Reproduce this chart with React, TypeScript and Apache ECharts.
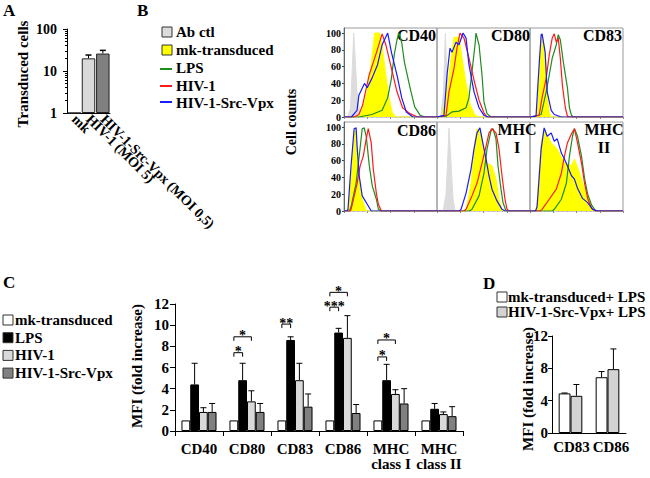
import React, { useEffect, useRef } from 'react';
import * as echarts from 'echarts';

const FONT = '"Liberation Serif", "Times New Roman", serif';

// ---------- Panel A data ----------
const aCategories = ['mk', 'HIV-1 (MOI 5)', 'HIV-1-Src-Vpx (MOI 0,5)'];
const aValues = [1, 20, 26];
const aErrTop = [1, 24, 31];
const aColors = ['#ffffff', '#d9d9d9', '#808080'];

// ---------- Panel B data (x: relative log fluorescence 0-100, y: cell counts) ----------
const cd40Ab = [[0, 0], [4, 0], [7, 10], [9, 60], [10.5, 100], [12, 70], [14, 30], [17, 5], [19, 0], [100, 0]];
const cd40Mk = [[0, 0], [16, 0], [20, 10], [25, 30], [28, 50], [31, 80], [33, 100], [38, 100], [41, 85], [45, 50], [48, 25], [52, 5], [56, 0], [100, 0]];
const cd40Lps = [[0, 0], [16, 0], [30, 3], [41, 8], [47, 23], [51, 46], [54, 74], [57, 92], [59, 100], [62, 89], [65, 65], [71, 35], [76, 12], [82, 2], [87, 0], [100, 0]];
const cd40Hiv = [[0, 0], [11, 0], [16, 3], [20, 14], [27, 50], [35, 77], [41, 99], [45, 86], [51, 58], [57, 30], [63, 11], [71, 4], [79, 0], [100, 0]];
const cd40Vpx = [[0, 0], [8, 0], [14, 8], [16, 26], [22, 40], [25, 35], [30, 46], [36, 62], [41, 86], [47, 100], [51, 77], [57, 50], [62, 23], [67, 6], [74, 0], [100, 0]];

const cd80Ab = [[0, 0], [4, 0], [7, 30], [9, 100], [11, 40], [13, 5], [15, 0], [100, 0]];
const cd80Mk = [[0, 0], [5.4, 0], [10.8, 30], [15, 70], [18.3, 95], [23.7, 95], [26.9, 70], [31.2, 40], [35.5, 15], [40.9, 2], [45, 0], [100, 0]];
const cd80Lps = [[0, 0], [9.7, 1], [16.1, 6], [23.7, 7], [31.2, 11], [34.4, 23], [37.6, 54], [40.9, 86], [41.9, 100], [45.2, 86], [48.4, 50], [50.5, 18], [53.8, 4], [58, 0], [100, 0]];
const cd80Hiv = [[0, 0], [9.7, 2], [12.9, 30], [18.3, 58], [21.5, 82], [24.7, 100], [29, 94], [34.4, 70], [39.8, 44], [45.2, 20], [50.5, 5], [53.8, 0], [100, 0]];
const cd80Vpx = [[0, 0], [7.5, 2], [10.8, 50], [14, 82], [16.1, 77], [20.4, 89], [23.7, 86], [28, 100], [31.2, 94], [34.4, 62], [39.8, 30], [45.2, 11], [50.5, 2], [54.8, 0], [100, 0]];

const cd83Ab: number[][] = [];
const cd83Mk = [[0, 0], [7.6, 0], [9.8, 50], [12, 94], [13, 98], [16.3, 77], [18.5, 30], [20.7, 5], [22.8, 0], [100, 0]];
const cd83Lps = [[0, 0], [12, 3], [17.4, 30], [20.7, 50], [23.9, 70], [28.3, 86], [30.4, 98], [32.6, 92], [35.9, 65], [40.2, 35], [42.4, 11], [44.6, 2], [46.7, 0], [100, 0]];
const cd83Hiv = [[0, 0], [9.8, 2], [13, 23], [17.4, 46], [20.7, 74], [23.9, 94], [26.1, 99], [28.3, 89], [30.4, 94], [32.6, 70], [34.8, 38], [38, 11], [40.2, 1], [42.4, 0], [100, 0]];
const cd83Vpx = [[0, 0], [6.5, 1], [9.8, 62], [12, 98], [13, 99], [16.3, 77], [18.5, 30], [22.8, 8], [26.1, 3], [33.7, 0], [100, 0]];

const cd86Ab: number[][] = [];
const cd86Mk = [[0, 0], [4, 0], [5.4, 7], [8.7, 54], [10.9, 93], [13, 98], [14.1, 74], [17.4, 33], [19.6, 14], [21.7, 7], [23.9, 0], [100, 0]];
const cd86Lps = [[0, 0], [6, 0], [7.6, 5], [13, 33], [16.3, 65], [19.6, 98], [21.7, 99], [23.9, 89], [27.2, 54], [30.4, 30], [34.8, 14], [37, 2], [40.2, 0], [100, 0]];
const cd86Hiv = [[0, 0], [7, 0], [8.7, 7], [14.1, 33], [17.4, 54], [20.7, 65], [23.9, 86], [26.1, 98], [29.3, 81], [31.5, 50], [34.8, 21], [37, 8], [40.2, 0], [100, 0]];
const cd86Vpx = [[0, 0], [3, 0], [4.3, 2], [7.6, 54], [10.9, 98], [13, 99], [14.1, 77], [16.3, 42], [19.6, 18], [25, 8], [29.3, 0], [100, 0]];

const mhc1Ab = [[0, 0], [6.5, 0], [9.7, 20], [11.8, 70], [12.9, 99], [15, 60], [17.2, 15], [19.4, 0], [100, 0]];
const mhc1Mk = [[0, 0], [31.2, 0], [36.6, 33], [39.8, 74], [43, 98], [47.3, 93], [50.5, 74], [53.8, 57], [59.1, 54], [63.4, 38], [66.7, 14], [69.9, 2], [72, 0], [100, 0]];
const mhc1Lps = [[0, 0], [35, 0], [37.6, 2], [45.2, 18], [50.5, 45], [53.8, 74], [58, 95], [60.2, 98], [63.4, 86], [65.6, 54], [68.8, 26], [71, 10], [74.2, 0], [100, 0]];
const mhc1Hiv = [[0, 0], [29, 0], [31.2, 2], [37.6, 18], [43, 33], [48.4, 57], [52.7, 77], [55.9, 93], [59.1, 98], [63.4, 93], [66.7, 74], [69.9, 42], [73.1, 14], [75.3, 2], [77.4, 0], [100, 0]];
const mhc1Vpx = [[0, 0], [24, 0], [25.8, 2], [31.2, 21], [36.6, 50], [39.8, 74], [43, 93], [46.2, 99], [48.4, 86], [52.7, 62], [55.9, 42], [59.1, 26], [64.5, 12], [69.9, 2], [73.1, 0], [100, 0]];

const mhc2Ab: number[][] = [];
const mhc2Mk = [[0, 0], [6, 0], [7.6, 10], [12, 81], [15.2, 98], [22.8, 81], [29.3, 74], [37, 57], [44.6, 54], [47.8, 62], [53.3, 45], [58.7, 26], [64.1, 12], [67.4, 2], [70.7, 0], [100, 0]];
const mhc2Lps = [[0, 0], [24, 0], [26.1, 2], [33.7, 14], [39.1, 33], [42.4, 65], [45.7, 89], [47.8, 98], [51.1, 89], [55.4, 65], [58.7, 39], [62, 20], [66.3, 7], [70.7, 0], [100, 0]];
const mhc2Hiv = [[0, 0], [11, 0], [13, 2], [20.7, 14], [28.3, 26], [33.7, 45], [37, 65], [40.2, 81], [44.6, 92], [47.8, 98], [51.1, 81], [55.4, 57], [58.7, 33], [62, 15], [66.3, 3], [70.7, 0], [100, 0]];
const mhc2Vpx = [[0, 0], [6, 0], [7.6, 5], [12, 74], [15.2, 99], [18.5, 89], [22.8, 93], [26.1, 83], [29.3, 86], [33.7, 69], [37, 62], [40.2, 54], [44.6, 42], [47.8, 38], [51.1, 27], [56.5, 15], [62, 10], [67.4, 2], [72.8, 0], [100, 0]];

const bPanelNames = ['CD40', 'CD80', 'CD83', 'CD86', 'MHC\nI', 'MHC\nII'];
const bAb = [cd40Ab, cd80Ab, cd83Ab, cd86Ab, mhc1Ab, mhc2Ab];
const bMk = [cd40Mk, cd80Mk, cd83Mk, cd86Mk, mhc1Mk, mhc2Mk];
const bLps = [cd40Lps, cd80Lps, cd83Lps, cd86Lps, mhc1Lps, mhc2Lps];
const bHiv = [cd40Hiv, cd80Hiv, cd83Hiv, cd86Hiv, mhc1Hiv, mhc2Hiv];
const bVpx = [cd40Vpx, cd80Vpx, cd83Vpx, cd86Vpx, mhc1Vpx, mhc2Vpx];
const bLegend = ['Ab ctl', 'mk-transduced', 'LPS', 'HIV-1', 'HIV-1-Src-Vpx'];

// ---------- Panel C data ----------
const cCategories = ['CD40', 'CD80', 'CD83', 'CD86', 'MHC\nclass I', 'MHC\nclass II'];
const cSeriesNames = ['mk-transduced', 'LPS', 'HIV-1', 'HIV-1-Src-Vpx'];
const cMk = [1, 1, 1, 1, 1, 1];
const cLps = [4.4, 4.8, 8.6, 9.3, 4.8, 2.1];
const cHiv = [1.8, 2.8, 4.8, 8.8, 3.5, 1.6];
const cVpx = [1.8, 1.8, 2.3, 1.7, 2.6, 1.4];
const cLpsErr = [6.4, 6.4, 8.9, 9.7, 6.3, 2.6];
const cHivErr = [2.2, 3.8, 6.4, 10.9, 3.9, 1.8];
const cVpxErr = [2.6, 2.6, 3.5, 2.5, 4.0, 2.3];
const cColors = ['#ffffff', '#000000', '#d9d9d9', '#808080'];

const sigCat = [1, 1, 2, 3, 3, 4, 4];
const sigFrom = [0, 0, 0, 0, 0, 0, 0];
const sigTo = [1, 2, 1, 1, 2, 1, 2];
const sigY = [7.4, 8.9, 10.1, 11.7, 13.1, 7.0, 8.6];
const sigLabel = ['*', '*', '**', '***', '*', '*', '*'];

// ---------- Panel D data ----------
const dCategories = ['CD83', 'CD86'];
const dSeriesNames = ['mk-transduced+ LPS', 'HIV-1-Src-Vpx+ LPS'];
const dMk = [4.9, 6.9];
const dVpx = [4.6, 7.9];
const dMkErr = [4.95, 7.6];
const dVpxErr = [6.0, 10.4];
const dColors = ['#ffffff', '#d3d3d3'];

const HIST_COLORS = { ab: '#dcdcdc', mk: '#ffff00', lps: '#1e8c1e', hiv: '#ff1a1a', vpx: '#1a1aff' };

function bold(size: number) {
  return `bold ${size}px ${FONT}`;
}

function barCenter(cx: number, band: number, idx: number, n: number, gap: number) {
  const gw = band * (1 - gap);
  return cx - gw / 2 + (gw / n) * (idx + 0.5);
}

function buildOption() {
  const grid: any[] = [];
  const xAxis: any[] = [];
  const yAxis: any[] = [];
  const series: any[] = [];
  const axisLabelBase = { fontFamily: FONT, fontWeight: 'bold', color: '#000' };

  // ---- A ----
  grid.push({ left: 67, top: 29, width: 43, height: 84 });
  xAxis.push({
    gridIndex: 0, type: 'category', data: aCategories,
    axisLine: { lineStyle: { color: '#000' } }, axisTick: { show: false },
    axisLabel: { ...axisLabelBase, interval: 0, rotate: -45, margin: 4, fontSize: 14, hideOverlap: false },
  });
  yAxis.push({
    gridIndex: 0, type: 'log', logBase: 10, min: 1, max: 100,
    axisLine: { show: true, lineStyle: { color: '#000' } },
    axisTick: { show: true, length: 4, lineStyle: { color: '#000' } },
    minorTick: { show: true, splitNumber: 9, length: 2, lineStyle: { color: '#000' } },
    splitLine: { show: false },
    axisLabel: { ...axisLabelBase, fontSize: 14, margin: 10 },
  });
  series.push({
    type: 'bar', xAxisIndex: 0, yAxisIndex: 0, barCategoryGap: '6%',
    data: aValues.map((v, i) => ({ value: v, itemStyle: { color: aColors[i], borderColor: '#222', borderWidth: 1 } })),
  });
  series.push({
    type: 'custom', xAxisIndex: 0, yAxisIndex: 0,
    data: aValues.map((v, i) => [i, v, aErrTop[i]]),
    renderItem: (params: any, api: any) => {
      const i = api.value(0);
      if (aErrTop[i] <= aValues[i]) return null;
      const b = api.coord([i, api.value(1)]);
      const t = api.coord([i, api.value(2)]);
      return {
        type: 'group', children: [
          { type: 'line', shape: { x1: b[0], y1: b[1], x2: t[0], y2: t[1] }, style: { stroke: '#000', lineWidth: 1 } },
          { type: 'line', shape: { x1: t[0] - 3, y1: t[1], x2: t[0] + 3, y2: t[1] }, style: { stroke: '#000', lineWidth: 1.5 } },
        ],
      };
    },
  });

  // ---- B ----
  const histPos = [[344, 28], [437, 28], [530, 28], [344, 122], [437, 122], [530, 122]];
  histPos.forEach((p, k) => {
    const gi = grid.length;
    grid.push({ left: p[0], top: p[1], width: 93, height: 89, show: true, borderColor: '#9a9a9a', borderWidth: 1 });
    xAxis.push({
      gridIndex: gi, type: 'value', min: 0, max: 100, interval: 25,
      axisLine: { show: false }, axisLabel: { show: false }, splitLine: { show: false },
      axisTick: { show: true, length: 2, lineStyle: { color: '#888' } },
      minorTick: { show: true, splitNumber: 5, length: 1, lineStyle: { color: '#aaa' } },
    });
    const leftCol = k % 3 === 0;
    yAxis.push({
      gridIndex: gi, type: 'value', min: 0, max: 106, interval: 20,
      axisLine: { show: leftCol, lineStyle: { color: '#666' } },
      axisTick: { show: leftCol, length: 2, lineStyle: { color: '#444' } },
      axisLabel: { show: leftCol, ...axisLabelBase, fontSize: 10, margin: 3, showMaxLabel: false },
      splitLine: { show: false },
    });
    const areaLine = (data: number[][], color: string, name: string, z: number) => ({
      type: 'line', name, xAxisIndex: gi, yAxisIndex: gi, data, showSymbol: false, symbol: 'none', z,
      lineStyle: { color, width: 1 }, areaStyle: { color, opacity: 1 },
    });
    const plainLine = (data: number[][], color: string, name: string, z: number) => ({
      type: 'line', name, xAxisIndex: gi, yAxisIndex: gi, data, showSymbol: false, symbol: 'none', z,
      lineStyle: { color, width: 1.2 },
    });
    if (bAb[k].length) series.push(areaLine(bAb[k], HIST_COLORS.ab, bLegend[0], 2));
    series.push(areaLine(bMk[k], HIST_COLORS.mk, bLegend[1], 3));
    series.push(plainLine(bLps[k], HIST_COLORS.lps, bLegend[2], 4));
    series.push(plainLine(bHiv[k], HIST_COLORS.hiv, bLegend[3], 5));
    series.push(plainLine(bVpx[k], HIST_COLORS.vpx, bLegend[4], 6));
  });

  // ---- C ----
  const cGi = grid.length;
  const C_GAP = 0.27;
  grid.push({ left: 175, top: 304, width: 288, height: 127 });
  xAxis.push({
    gridIndex: cGi, type: 'category', data: cCategories,
    axisLine: { lineStyle: { color: '#000' } },
    axisTick: { show: true, length: 5, lineStyle: { color: '#000' } },
    axisLabel: { ...axisLabelBase, fontSize: 15, margin: 10, lineHeight: 15, interval: 0 },
  });
  yAxis.push({
    gridIndex: cGi, type: 'value', min: 0, max: 12, interval: 2,
    axisLine: { show: true, lineStyle: { color: '#000' } },
    axisTick: { show: true, length: 5, lineStyle: { color: '#000' } },
    axisLabel: { ...axisLabelBase, fontSize: 15, margin: 6 },
    splitLine: { show: false },
  });
  const cVals = [cMk, cLps, cHiv, cVpx];
  const cErrs = [cMk, cLpsErr, cHivErr, cVpxErr];
  cVals.forEach((vals, s) => {
    series.push({
      type: 'bar', name: cSeriesNames[s], xAxisIndex: cGi, yAxisIndex: cGi, data: vals,
      barGap: '0%', barCategoryGap: `${C_GAP * 100}%`,
      itemStyle: { color: cColors[s], borderColor: '#000', borderWidth: 1 },
    });
  });
  const cErrData: number[][] = [];
  cVals.forEach((vals, s) => vals.forEach((v, c) => { if (cErrs[s][c] > v) cErrData.push([c, v, cErrs[s][c], s]); }));
  series.push({
    type: 'custom', xAxisIndex: cGi, yAxisIndex: cGi, data: cErrData, z: 5,
    renderItem: (params: any, api: any) => {
      const c = api.value(0);
      const s = api.value(3);
      const b = api.coord([c, api.value(1)]);
      const t = api.coord([c, api.value(2)]);
      const band = api.size([1, 0])[0];
      const x = barCenter(b[0], band, s, 4, C_GAP);
      return {
        type: 'group', children: [
          { type: 'line', shape: { x1: x, y1: b[1], x2: x, y2: t[1] }, style: { stroke: '#000', lineWidth: 1 } },
          { type: 'line', shape: { x1: x - 3, y1: t[1], x2: x + 3, y2: t[1] }, style: { stroke: '#000', lineWidth: 1 } },
        ],
      };
    },
  });
  series.push({
    type: 'custom', xAxisIndex: cGi, yAxisIndex: cGi, z: 6,
    data: sigCat.map((c, i) => [c, sigY[i]]),
    renderItem: (params: any, api: any) => {
      const i = params.dataIndex;
      const p = api.coord([api.value(0), api.value(1)]);
      const band = api.size([1, 0])[0];
      const x1 = barCenter(p[0], band, sigFrom[i], 4, C_GAP);
      const x2 = barCenter(p[0], band, sigTo[i], 4, C_GAP);
      return {
        type: 'group', children: [
          { type: 'polyline', shape: { points: [[x1, p[1] + 4], [x1, p[1]], [x2, p[1]], [x2, p[1] + 4]] }, style: { stroke: '#000', lineWidth: 1, fill: 'none' } },
          { type: 'text', x: (x1 + x2) / 2, y: p[1] - 1, style: { text: sigLabel[i], font: bold(14), fill: '#000', align: 'center', verticalAlign: 'middle' } },
        ],
      };
    },
  });

  // ---- D ----
  const dGi = grid.length;
  const D_GAP = 0.36;
  grid.push({ left: 552, top: 336, width: 74, height: 97 });
  xAxis.push({
    gridIndex: dGi, type: 'category',
    data: dCategories.map((c, i) => (i === 1 ? { value: c, textStyle: { padding: [0, 0, 0, 7] } } : { value: c, textStyle: { padding: [0, 0, 0, 2] } })),
    axisLine: { lineStyle: { color: '#000' } }, axisTick: { show: false },
    axisLabel: { ...axisLabelBase, fontSize: 15, margin: 6, interval: 0 },
  });
  yAxis.push({
    gridIndex: dGi, type: 'value', min: 0, max: 12, interval: 4,
    axisLine: { show: true, lineStyle: { color: '#000' } },
    axisTick: { show: true, length: 4, lineStyle: { color: '#000' } },
    axisLabel: { ...axisLabelBase, fontSize: 15, margin: 4 },
    splitLine: { show: false },
  });
  const dVals = [dMk, dVpx];
  const dErrs = [dMkErr, dVpxErr];
  dVals.forEach((vals, s) => {
    series.push({
      type: 'bar', name: dSeriesNames[s], xAxisIndex: dGi, yAxisIndex: dGi, data: vals,
      barGap: '0%', barCategoryGap: `${D_GAP * 100}%`,
      itemStyle: { color: dColors[s], borderColor: '#000', borderWidth: 1 },
    });
  });
  const dErrData: number[][] = [];
  dVals.forEach((vals, s) => vals.forEach((v, c) => { if (dErrs[s][c] > v) dErrData.push([c, v, dErrs[s][c], s]); }));
  series.push({
    type: 'custom', xAxisIndex: dGi, yAxisIndex: dGi, data: dErrData, z: 5,
    renderItem: (params: any, api: any) => {
      const c = api.value(0);
      const s = api.value(3);
      const b = api.coord([c, api.value(1)]);
      const t = api.coord([c, api.value(2)]);
      const band = api.size([1, 0])[0];
      const x = barCenter(b[0], band, s, 2, D_GAP);
      return {
        type: 'group', children: [
          { type: 'line', shape: { x1: x, y1: b[1], x2: x, y2: t[1] }, style: { stroke: '#000', lineWidth: 1 } },
          { type: 'line', shape: { x1: x - 3, y1: t[1], x2: x + 3, y2: t[1] }, style: { stroke: '#000', lineWidth: 1 } },
        ],
      };
    },
  });

  // ---- graphic: panel letters, titles, legends ----
  const text = (t: string, x: number, y: number, size: number, extra: any = {}) => ({
    type: 'text', x, y, silent: true,
    style: { text: t, font: bold(size), fill: '#000', align: 'left', verticalAlign: 'middle', ...extra },
  });
  const vtext = (t: string, x: number, y: number, size: number) => ({
    type: 'text', x, y, rotation: Math.PI / 2, silent: true,
    style: { text: t, font: bold(size), fill: '#000', align: 'center', verticalAlign: 'middle' },
  });
  const box = (x: number, y: number, color: string) => ({
    type: 'rect', shape: { x, y, width: 10, height: 10 }, style: { fill: color, stroke: '#333', lineWidth: 1 },
  });
  const legLine = (x: number, y: number, color: string) => ({
    type: 'line', shape: { x1: x, y1: y, x2: x + 12, y2: y }, style: { stroke: color, lineWidth: 2 },
  });

  const graphic: any[] = [
    text('A', 3, 10, 17),
    text('B', 137, 10, 17),
    text('C', 3, 282, 17),
    text('D', 483, 283, 17),
    vtext('Transduced cells', 23, 74, 15),
    vtext('Cell counts', 291, 122, 14),
    vtext('MFI (fold increase)', 137, 366, 15),
    vtext('MFI (fold increase)', 528, 389, 15),
    // B legend
    box(162, 27, HIST_COLORS.ab), text(bLegend[0], 176, 32, 15),
    box(162, 45, HIST_COLORS.mk), text(bLegend[1], 176, 50, 15),
    legLine(160, 69, HIST_COLORS.lps), text(bLegend[2], 176, 68, 15),
    legLine(160, 86, HIST_COLORS.hiv), text(bLegend[3], 176, 86, 15),
    legLine(160, 102, HIST_COLORS.vpx), text(bLegend[4], 176, 103, 15),
    // B panel labels
    text(bPanelNames[0], 436, 35, 16, { align: 'right' }),
    text(bPanelNames[1], 530, 35, 16, { align: 'right' }),
    text(bPanelNames[2], 622, 35, 16, { align: 'right' }),
    text(bPanelNames[3], 436, 130, 16, { align: 'right' }),
    text(bPanelNames[4], 517, 138, 16, { align: 'center', lineHeight: 18 }),
    text(bPanelNames[5], 604, 138, 16, { align: 'center', lineHeight: 18 }),
  ];
  // C legend
  cSeriesNames.forEach((n, i) => {
    const y = 320 + i * 17.7;
    graphic.push(box(3, y - 5, cColors[i]));
    graphic.push(text(n, 15, y, 15));
  });
  // D legend
  dSeriesNames.forEach((n, i) => {
    const y = 297 + i * 15;
    graphic.push(box(497, y - 5, dColors[i]));
    graphic.push(text(n, 508, y, 15));
  });

  return { animation: false, backgroundColor: '#fff', grid, xAxis, yAxis, series, graphic };
}

export default function App() {
  const ref = useRef<HTMLDivElement>(null);
  useEffect(() => {
    if (!ref.current) return;
    const chart = echarts.init(ref.current, null, { renderer: 'svg' });
    chart.setOption(buildOption() as any);
    return () => chart.dispose();
  }, []);
  return <div ref={ref} style={{ position: 'absolute', left: 0, top: 0, width: 650, height: 478 }} />;
}
